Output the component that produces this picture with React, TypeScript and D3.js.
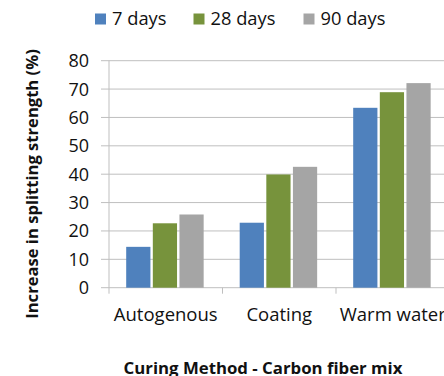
import React from "react";
import * as d3 from "d3";

const categories = ["Autogenous", "Coating", "Warm water"];
const seriesNames = ["7 days", "28 days", "90 days"];
const days7 = [14.4, 22.9, 63.4];
const days28 = [22.7, 39.9, 68.9];
const days90 = [25.8, 42.6, 72.1];
const yTicks = [0, 10, 20, 30, 40, 50, 60, 70, 80];
const colors = ["#4F81BD", "#77933C", "#A5A5A5"];

const W = 444;
const H = 376;
const FONT = "'Open Sans', sans-serif";

export default function App() {
  const seriesValues = [days7, days28, days90];
  const plotLeft = 109;
  const plotTop = 60.7;
  const plotBottom = 287.7;
  const bandW = 113.5;

  const y = d3.scaleLinear().domain([0, 80]).range([plotBottom, plotTop]);
  const x0 = d3
    .scaleBand<string>()
    .domain(categories)
    .range([plotLeft, plotLeft + bandW * categories.length])
    .paddingInner(0)
    .paddingOuter(0);
  const bw = x0.bandwidth();
  const x1 = d3
    .scaleBand<string>()
    .domain(seriesNames)
    .range([bw * 0.1515, bw * 0.834])
    .paddingInner(0.09)
    .paddingOuter(0);

  const boundaries = [...categories.map((c) => x0(c) as number), (x0(categories[categories.length - 1]) as number) + bw];
  const legendSquareX = [95, 193.5, 303.5];

  return (
    <svg
      width={W}
      height={H}
      style={{ position: "absolute", left: 0, top: 0, background: "#fff" }}
      fontFamily={FONT}
    >
      {/* legend */}
      {seriesNames.map((s, i) => (
        <g key={s}>
          <rect x={legendSquareX[i]} y={13.5} width={11} height={11} fill={colors[i]} />
          <text x={legendSquareX[i] + 17} y={25} fontSize={18.3} fill="#111">
            {s}
          </text>
        </g>
      ))}

      {/* gridlines with outward ticks */}
      {yTicks.map((t) => (
        <line
          key={t}
          x1={plotLeft - 8}
          x2={W}
          y1={y(t)}
          y2={y(t)}
          stroke="#BFBFBF"
          strokeWidth={1}
        />
      ))}
      {/* value axis */}
      <line x1={plotLeft} x2={plotLeft} y1={plotTop} y2={plotBottom} stroke="#BFBFBF" />
      {/* category ticks */}
      {boundaries.map((bx, i) => (
        <line key={i} x1={bx} x2={bx} y1={plotBottom} y2={plotBottom + 6} stroke="#BFBFBF" />
      ))}

      {/* bars */}
      {categories.map((c, ci) => (
        <g key={c} transform={`translate(${x0(c)},0)`}>
          {seriesNames.map((s, si) => {
            const v = seriesValues[si][ci];
            return (
              <rect
                key={s}
                x={x1(s)}
                y={y(v)}
                width={x1.bandwidth()}
                height={y(0) - y(v)}
                fill={colors[si]}
              />
            );
          })}
        </g>
      ))}

      {/* y tick labels */}
      {yTicks.map((t) => (
        <text key={t} x={89} y={y(t)} dy="0.36em" textAnchor="end" fontSize={18} fill="#111">
          {t}
        </text>
      ))}

      {/* category labels */}
      {categories.map((c) => (
        <text
          key={c}
          x={(x0(c) as number) + bw / 2}
          y={321}
          textAnchor="middle"
          fontSize={18.5}
          fill="#111"
        >
          {c}
        </text>
      ))}

      {/* axis titles */}
      <text
        transform={`translate(38,184) rotate(-90)`}
        textAnchor="middle"
        fontSize={16.6}
        fontWeight="bold"
        fill="#111"
      >
        Increase in splitting strength (%)
      </text>
      <text x={263} y={373.5} textAnchor="middle" fontSize={16.8} fontWeight="bold" fill="#111">
        Curing Method - Carbon fiber mix
      </text>
    </svg>
  );
}
